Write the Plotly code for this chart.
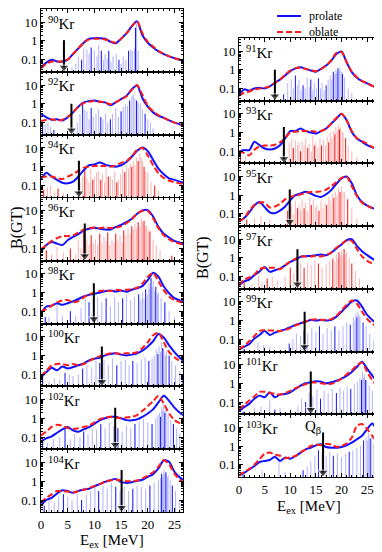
import plotly.graph_objects as go

# excitation energy grid (MeV) for the strength curves
E = list(range(29))

left_panels = ["90", "92", "94", "96", "98", "100", "102", "104"]
right_panels = ["91", "93", "95", "97", "99", "101", "103"]
red_bar_panels = ["94", "96", "93", "95", "97"]

# folded B(GT) curves, prolate shape
prolate = {
    "90": [0.04, 0.07, 0.1, 0.08, 0.08, 0.1, 0.2, 0.4, 0.8, 1.3, 1.4, 1.4, 1.3, 0.9, 0.75, 1.3, 2.5, 6, 11, 2, 0.8, 0.45, 0.28, 0.2, 0.15, 0.12, 0.1, 0.08, 0.07],
    "92": [0.28, 0.19, 0.14, 0.15, 0.13, 0.19, 0.35, 0.7, 1.2, 1.4, 1.5, 1.3, 1.2, 0.85, 1.2, 1.8, 2.6, 6, 9.5, 2.0, 0.7, 0.35, 0.23, 0.18, 0.13, 0.1, 0.08, 0.06, 0.05],
    "94": [0.21, 0.48, 0.3, 0.2, 0.14, 0.13, 0.16, 0.3, 0.66, 1.2, 1.3, 1.7, 1.3, 1.1, 1.0, 1.2, 1.8, 3.4, 7, 10.6, 6.8, 2.3, 0.8, 0.4, 0.24, 0.2, 0.16, 0.13, 0.12],
    "96": [0.067, 0.15, 0.22, 0.18, 0.15, 0.27, 0.41, 0.57, 0.92, 1.1, 1.27, 1.1, 1.0, 1.0, 1.4, 1.8, 2.5, 3.8, 7, 10.4, 11, 5, 1.4, 0.6, 0.38, 0.25, 0.2, 0.15, 0.13],
    "98": [0.08, 0.18, 0.2, 0.27, 0.22, 0.27, 0.34, 0.45, 0.62, 0.75, 0.85, 1.0, 1.17, 1.27, 1.13, 1.27, 1.1, 1.4, 1.7, 2.2, 4.6, 11.3, 7, 2.1, 0.92, 0.5, 0.38, 0.31, 0.27],
    "100": [0.07, 0.13, 0.22, 0.16, 0.26, 0.2, 0.24, 0.3, 0.37, 0.55, 0.67, 0.75, 1.0, 1.2, 1.3, 1.1, 1.0, 1.1, 1.3, 1.8, 3, 5.7, 14, 9, 3.4, 1.5, 0.75, 0.45, 0.35],
    "102": [0.06, 0.085, 0.11, 0.17, 0.26, 0.34, 0.23, 0.19, 0.26, 0.34, 0.52, 0.78, 1.0, 1.2, 1.2, 1.0, 0.8, 0.78, 0.88, 1.2, 1.8, 3, 7, 15.7, 8.5, 3.7, 2, 1.3, 1.0],
    "104": [0.05, 0.1, 0.13, 0.22, 0.33, 0.3, 0.24, 0.3, 0.36, 0.4, 0.54, 0.7, 0.92, 1.13, 1.33, 0.92, 0.81, 0.88, 1.04, 1.2, 1.7, 2.4, 4.8, 13, 10.8, 3.2, 1.6, 1.04, 0.8],
    "91": [0.046, 0.09, 0.077, 0.1, 0.11, 0.1, 0.13, 0.2, 0.3, 0.5, 0.85, 1.2, 1.38, 1.13, 0.92, 0.79, 1.13, 1.7, 3.1, 7, 9.5, 2.5, 0.76, 0.38, 0.25, 0.19, 0.14, 0.11, 0.09],
    "93": [0.094, 0.115, 0.115, 0.32, 0.21, 0.14, 0.125, 0.14, 0.21, 0.48, 1.18, 1.18, 1.63, 1.18, 1.0, 0.88, 1.18, 1.63, 3, 5.5, 10, 4.5, 1.08, 0.48, 0.32, 0.21, 0.16, 0.13, 0.11],
    "95": [0.04, 0.06, 0.12, 0.28, 0.43, 0.23, 0.12, 0.11, 0.15, 0.25, 0.53, 1.0, 1.23, 1.52, 1.23, 0.92, 0.81, 1.13, 1.87, 4, 8, 10, 4.3, 1.0, 0.43, 0.28, 0.21, 0.17, 0.15],
    "97": [0.034, 0.056, 0.07, 0.12, 0.19, 0.33, 0.18, 0.22, 0.27, 0.4, 0.61, 0.81, 1.13, 1.23, 1.28, 1.39, 1.5, 1.39, 1.9, 3.2, 5.2, 8.8, 10, 4.4, 2.3, 1.4, 0.92, 0.66, 0.55],
    "99": [0.029, 0.04, 0.056, 0.11, 0.17, 0.29, 0.17, 0.23, 0.28, 0.34, 0.44, 0.59, 0.72, 0.88, 1.09, 1.0, 1.09, 1.0, 1.09, 1.64, 3, 5.6, 10.4, 11.8, 5.6, 2, 1.09, 0.72, 0.55],
    "101": [0.033, 0.053, 0.08, 0.15, 0.22, 0.18, 0.33, 0.18, 0.25, 0.27, 0.33, 0.5, 0.75, 1.0, 1.13, 1.28, 1.23, 1.0, 1.13, 1.38, 1.8, 2.5, 4, 7.5, 14, 6, 2.6, 1.2, 0.8],
    "103": [0.027, 0.037, 0.056, 0.085, 0.14, 0.16, 0.18, 0.27, 0.16, 0.24, 0.21, 0.29, 0.44, 0.66, 0.81, 1.08, 1.23, 0.88, 0.81, 0.81, 0.88, 1.08, 1.5, 2.3, 3.5, 8, 16, 6, 2.5],
}

# folded B(GT) curves, oblate shape
oblate = {
    "90": [0.035, 0.06, 0.08, 0.08, 0.08, 0.1, 0.2, 0.4, 0.8, 1.2, 1.3, 1.3, 1.2, 0.95, 0.8, 1.3, 2.5, 6, 11, 2.6, 0.9, 0.5, 0.3, 0.2, 0.15, 0.12, 0.1, 0.08, 0.07],
    "92": [0.12, 0.14, 0.15, 0.13, 0.14, 0.2, 0.35, 0.7, 1.1, 1.3, 1.4, 1.3, 1.2, 0.95, 1.2, 1.7, 2.5, 5.5, 10, 3, 0.8, 0.4, 0.25, 0.18, 0.13, 0.1, 0.08, 0.065, 0.055],
    "94": [0.28, 0.3, 0.3, 0.25, 0.22, 0.3, 0.4, 0.6, 0.9, 1.0, 1.1, 1.1, 1.1, 1.0, 1.2, 1.6, 2.0, 3.5, 8, 10, 4, 1.2, 0.45, 0.25, 0.18, 0.15, 0.13, 0.12, 0.11],
    "96": [0.09, 0.15, 0.25, 0.35, 0.45, 0.45, 0.5, 0.7, 1.0, 1.2, 1.3, 1.2, 1.3, 1.2, 1.3, 1.5, 2.2, 3.5, 7, 10, 10, 4, 1.2, 0.5, 0.3, 0.22, 0.18, 0.14, 0.12],
    "98": [0.1, 0.13, 0.2, 0.3, 0.38, 0.4, 0.3, 0.35, 0.55, 0.8, 1.0, 1.2, 1.3, 1.2, 1.4, 1.3, 1.4, 1.5, 1.8, 3, 7, 11, 4, 1.3, 0.6, 0.4, 0.32, 0.28, 0.25],
    "100": [0.08, 0.15, 0.3, 0.35, 0.35, 0.3, 0.35, 0.3, 0.35, 0.5, 0.7, 0.9, 1.1, 1.3, 1.3, 1.2, 1.3, 1.3, 1.5, 2.5, 5, 12, 16, 5, 1.5, 0.8, 0.5, 0.38, 0.3],
    "102": [0.12, 0.2, 0.35, 0.45, 0.4, 0.3, 0.28, 0.3, 0.35, 0.4, 0.6, 0.9, 1.1, 1.2, 1.1, 1.0, 1.1, 1.2, 1.5, 2.5, 4.5, 8, 16, 6, 1.8, 0.8, 0.55, 0.42, 0.35],
    "104": [0.07, 0.13, 0.2, 0.3, 0.3, 0.28, 0.25, 0.3, 0.35, 0.45, 0.55, 0.7, 0.95, 1.1, 1.2, 1.1, 1.0, 1.0, 1.1, 1.4, 2, 3, 6, 13, 8, 2.5, 1.2, 0.7, 0.5],
    "91": [0.04, 0.06, 0.07, 0.09, 0.1, 0.11, 0.13, 0.2, 0.3, 0.55, 0.9, 1.2, 1.3, 1.1, 0.95, 0.85, 1.1, 1.7, 3.3, 8, 9, 2.6, 0.8, 0.4, 0.26, 0.19, 0.14, 0.11, 0.09],
    "93": [0.1, 0.08, 0.06, 0.12, 0.18, 0.2, 0.2, 0.22, 0.3, 0.5, 1.0, 1.1, 1.2, 1.2, 1.2, 1.1, 1.2, 1.6, 3, 6, 10, 4.5, 1.2, 0.5, 0.35, 0.25, 0.17, 0.14, 0.12],
    "95": [0.04, 0.06, 0.15, 0.3, 0.4, 0.4, 0.22, 0.25, 0.35, 0.6, 0.8, 1.0, 1.1, 1.3, 1.5, 1.5, 1.6, 2, 3, 5, 8.5, 10, 3, 0.9, 0.4, 0.28, 0.2, 0.16, 0.14],
    "97": [0.035, 0.07, 0.09, 0.13, 0.25, 0.3, 0.3, 0.3, 0.25, 0.4, 0.65, 0.9, 1.2, 1.2, 1.2, 1.3, 1.2, 1.4, 2, 3.5, 5.5, 9, 8, 3, 1.2, 0.7, 0.5, 0.4, 0.35],
    "99": [0.03, 0.045, 0.08, 0.15, 0.28, 0.32, 0.3, 0.3, 0.28, 0.32, 0.4, 0.55, 0.7, 0.9, 1.1, 1.2, 1.1, 1.1, 1.2, 1.8, 3.5, 7, 12, 8, 3, 1.2, 0.7, 0.45, 0.35],
    "101": [0.04, 0.07, 0.12, 0.2, 0.35, 0.35, 0.3, 0.28, 0.25, 0.3, 0.4, 0.55, 0.7, 0.9, 1.1, 1.1, 1.0, 0.9, 0.95, 1.2, 1.8, 3, 5, 9, 13, 4, 1.5, 0.7, 0.5],
    "103": [0.027, 0.04, 0.06, 0.1, 0.2, 0.38, 0.45, 0.35, 0.3, 0.22, 0.25, 0.3, 0.45, 0.65, 1.0, 1.2, 1.1, 1.3, 1.2, 0.9, 1.0, 1.4, 2.8, 12, 15, 8, 3.5, 1.5, 0.9],
}

# discrete GT transitions (energy, strength)
bar_E = {
    "90": [2.0, 5.8, 6.5, 7.0, 7.6, 8.0, 8.6, 9.0, 9.4, 10.0, 10.5, 10.8, 11.3, 11.7, 12.0, 12.4, 12.7, 13.1, 13.5, 14.1, 14.6, 15.0, 15.4, 15.9, 16.4, 16.8, 17.1, 17.5, 17.7, 17.9, 18.2],
    "92": [0.3, 0.8, 1.3, 1.8, 2.4, 6.2, 6.8, 7.3, 7.8, 8.2, 8.6, 9.0, 9.4, 9.8, 10.3, 10.8, 11.2, 11.6, 12.1, 12.5, 13.0, 13.4, 14.0, 14.5, 15.0, 15.4, 15.8, 16.2, 16.6, 17.0, 17.3, 17.6, 17.9, 18.2, 18.6, 19.0, 19.5, 20.0, 20.5, 21.0],
    "94": [0.5, 1.2, 1.8, 2.5, 3.2, 4.2, 7.3, 7.8, 8.2, 8.6, 9.0, 9.3, 9.7, 10.0, 10.4, 10.8, 11.2, 11.5, 11.9, 12.2, 12.6, 13.0, 13.4, 13.8, 14.2, 14.5, 14.9, 15.3, 15.7, 16.0, 16.4, 16.7, 17.0, 17.3, 17.6, 17.9, 18.2, 18.5, 18.8, 19.0, 19.3, 19.6, 20.0, 20.6, 21.3, 22.0],
    "96": [1.0, 2.0, 3.0, 4.2, 5.5, 6.5, 7.0, 7.5, 8.0, 8.3, 8.6, 9.0, 9.4, 9.8, 10.2, 10.6, 11.0, 11.4, 11.8, 12.2, 12.5, 12.9, 13.3, 13.7, 14.0, 14.4, 14.8, 15.2, 15.5, 15.9, 16.3, 16.7, 17.0, 17.3, 17.6, 17.9, 18.2, 18.5, 18.8, 19.0, 19.3, 19.6, 19.8, 20.1, 20.4, 21.0, 21.6, 22.3, 24.5],
    "98": [0.8, 1.5, 3.0, 4.0, 5.5, 6.5, 7.5, 8.3, 9.0, 9.8, 10.6, 11.4, 12.2, 13.0, 13.8, 14.5, 15.3, 16.0, 16.8, 17.5, 18.3, 18.7, 19.0, 19.3, 19.6, 19.9, 20.2, 20.4, 20.6, 20.8, 21.0, 21.3, 21.5, 21.8, 22.0, 22.5, 23.2, 24.0, 25.0],
    "100": [0.3, 1.5, 2.5, 3.5, 4.5, 5.3, 6.0, 7.0, 7.8, 8.6, 9.5, 10.3, 11.0, 11.8, 12.6, 13.4, 14.2, 15.0, 15.8, 16.5, 17.2, 18.0, 18.8, 19.5, 20.2, 20.8, 21.2, 21.6, 21.9, 22.1, 22.4, 22.6, 22.8, 23.0, 23.3, 23.5, 24.0, 24.5, 25.2, 26.0, 26.6],
    "102": [0.3, 1.2, 2.3, 3.5, 4.5, 5.5, 6.3, 7.3, 8.0, 8.8, 9.6, 10.4, 11.2, 12.0, 12.8, 13.6, 14.4, 15.2, 16.0, 16.8, 17.6, 18.4, 19.2, 20.0, 20.8, 21.5, 21.9, 22.2, 22.4, 22.6, 22.8, 23.0, 23.2, 23.4, 23.8, 24.3, 24.8, 25.4, 26.0],
    "104": [0.6, 1.5, 2.5, 3.3, 4.2, 5.0, 5.8, 6.8, 7.6, 8.5, 9.3, 10.1, 10.8, 11.6, 12.4, 13.2, 14.0, 14.8, 15.6, 16.4, 17.2, 18.0, 18.8, 19.6, 20.4, 21.2, 22.0, 22.4, 22.6, 22.8, 23.0, 23.2, 23.4, 23.6, 23.8, 24.2, 24.6, 25.2, 26.0],
    "91": [8.7, 9.5, 10.2, 10.6, 11.0, 11.4, 11.7, 12.1, 12.5, 12.9, 13.3, 13.7, 14.0, 14.4, 14.7, 15.1, 15.5, 15.9, 16.2, 16.6, 17.0, 17.4, 17.8, 18.1, 18.4, 18.7, 18.9, 19.1, 19.3, 19.5, 19.7, 20.0, 20.2, 20.6, 21.3, 22.0],
    "93": [0.3, 1.3, 9.8, 10.3, 10.6, 11.0, 11.4, 11.7, 12.0, 12.3, 12.7, 13.0, 13.4, 13.7, 14.1, 14.4, 14.7, 15.0, 15.4, 15.8, 16.1, 16.5, 16.9, 17.2, 17.5, 17.8, 18.1, 18.4, 18.7, 18.9, 19.2, 19.4, 19.6, 19.8, 20.1, 20.3, 20.8, 21.3, 22.0, 23.0],
    "95": [1.5, 3.0, 4.3, 6.0, 9.5, 10.3, 10.7, 11.0, 11.4, 11.7, 12.0, 12.3, 12.7, 13.0, 13.4, 13.8, 14.1, 14.5, 14.9, 15.2, 15.6, 16.0, 16.4, 16.8, 17.1, 17.5, 17.8, 18.2, 18.5, 18.8, 19.1, 19.4, 19.7, 20.0, 20.3, 20.6, 21.2, 22.0, 23.0],
    "97": [1.0, 2.5, 3.8, 4.5, 5.5, 6.5, 7.5, 9.0, 10.0, 10.7, 11.3, 12.0, 12.7, 13.4, 14.1, 14.8, 15.5, 16.2, 17.0, 17.7, 18.3, 18.7, 19.0, 19.3, 19.5, 19.8, 20.0, 20.3, 20.5, 20.8, 21.0, 21.5, 22.0, 22.7, 23.5],
    "99": [1.0, 3.7, 4.8, 6.0, 9.8, 10.5, 11.2, 12.0, 12.7, 13.4, 14.2, 15.0, 15.7, 16.4, 17.2, 18.0, 18.7, 19.5, 20.3, 21.0, 21.7, 22.3, 22.6, 22.8, 23.0, 23.2, 23.4, 23.6, 24.2, 24.8, 25.5, 26.3],
    "101": [0.8, 3.0, 4.3, 6.0, 7.0, 8.0, 11.5, 12.2, 13.0, 13.7, 14.4, 15.2, 15.9, 16.6, 17.4, 18.2, 19.0, 19.7, 20.4, 21.1, 21.8, 22.5, 23.1, 23.6, 23.9, 24.1, 24.3, 24.5, 24.7, 24.9, 25.4, 26.0, 26.6],
    "103": [0.8, 4.5, 7.8, 9.0, 12.5, 13.3, 14.0, 14.8, 15.5, 16.2, 17.0, 17.7, 18.4, 19.2, 20.0, 20.8, 21.5, 22.2, 23.0, 23.7, 24.3, 24.8, 25.1, 25.3, 25.6, 25.8, 26.3, 26.8],
}
bar_B = {
    "90": [0.03, 0.04, 0.06, 0.15, 0.1, 0.4, 0.35, 0.2, 0.45, 0.3, 0.15, 0.6, 0.3, 0.1, 0.2, 0.12, 0.3, 0.08, 0.15, 0.2, 0.1, 0.06, 0.15, 0.1, 0.3, 0.35, 0.3, 0.4, 5, 8, 0.3],
    "92": [0.1, 0.08, 0.1, 0.06, 0.04, 0.04, 0.1, 0.3, 1.2, 0.5, 0.4, 0.15, 0.6, 0.2, 0.3, 0.5, 0.2, 0.15, 0.3, 0.1, 0.15, 0.3, 0.6, 0.2, 0.4, 0.7, 1.0, 0.8, 1.5, 2.5, 3, 2, 1.5, 1.2, 1, 0.5, 0.3, 0.15, 0.1, 0.05],
    "94": [0.06, 0.08, 0.1, 0.05, 0.07, 0.04, 0.15, 0.3, 0.7, 0.25, 0.15, 0.8, 0.2, 0.3, 0.5, 0.6, 0.2, 0.4, 0.15, 0.8, 0.3, 0.3, 0.2, 0.5, 0.15, 0.2, 0.4, 0.8, 0.5, 1.2, 0.8, 1.5, 1.0, 2, 1.2, 3, 2, 5, 3, 2, 1, 0.6, 0.5, 0.15, 0.1, 0.05],
    "96": [0.08, 0.05, 0.12, 0.06, 0.1, 0.05, 0.3, 0.1, 0.8, 0.2, 0.3, 0.15, 0.5, 0.2, 0.3, 0.15, 0.6, 0.2, 0.4, 0.25, 0.7, 0.15, 0.3, 0.2, 0.6, 0.3, 0.5, 0.2, 0.9, 0.5, 1.2, 0.6, 1.5, 1.0, 2, 1.2, 2.5, 1.5, 4, 2.5, 3, 1.5, 1.5, 1, 0.8, 0.3, 0.15, 0.08, 0.04],
    "98": [0.05, 0.05, 0.3, 0.06, 0.1, 0.06, 0.15, 0.5, 0.3, 0.4, 0.6, 0.3, 0.5, 0.2, 0.6, 0.3, 0.5, 0.8, 0.4, 0.6, 0.8, 0.4, 1, 0.5, 1.5, 0.8, 3, 1.5, 6, 2, 4, 1.2, 2, 0.8, 1, 0.5, 0.3, 0.1, 0.05],
    "100": [0.08, 0.04, 0.06, 0.05, 0.12, 0.1, 0.08, 0.1, 0.2, 0.3, 0.2, 0.5, 0.4, 0.6, 0.3, 0.7, 0.3, 0.5, 0.6, 0.3, 0.5, 0.4, 0.6, 0.8, 0.5, 0.7, 1, 2, 1.2, 3, 1.5, 5, 2.5, 2, 1, 1.5, 1, 0.5, 0.3, 0.15, 0.1],
    "102": [0.06, 0.05, 0.08, 0.1, 0.3, 0.08, 0.15, 0.1, 0.2, 0.15, 0.3, 0.25, 0.5, 0.3, 0.6, 0.4, 0.3, 0.2, 0.4, 0.3, 0.5, 0.7, 0.9, 0.6, 0.5, 1, 1.5, 2, 1.2, 4, 2.5, 6, 2, 3, 1.5, 0.8, 0.5, 0.3, 0.15],
    "104": [0.05, 0.1, 0.07, 0.15, 0.2, 0.15, 0.1, 0.2, 0.1, 0.2, 0.3, 0.5, 0.3, 0.6, 0.4, 0.8, 0.5, 0.3, 0.5, 0.3, 0.4, 0.6, 0.5, 0.4, 0.6, 0.8, 1.2, 1.5, 2.5, 1.8, 4, 2.5, 3, 1.5, 2, 1.2, 0.6, 0.3, 0.1],
    "91": [0.05, 0.2, 0.3, 0.1, 0.5, 0.15, 0.3, 0.08, 0.15, 0.1, 0.4, 0.12, 0.3, 0.08, 0.2, 0.1, 0.35, 0.1, 0.2, 0.08, 0.15, 0.3, 0.5, 0.3, 0.8, 0.6, 1.0, 0.7, 1.2, 0.9, 1.3, 0.8, 0.6, 0.4, 0.1, 0.06],
    "93": [0.08, 0.05, 0.3, 0.5, 0.15, 0.4, 0.2, 0.3, 0.1, 0.35, 0.2, 0.5, 0.15, 0.25, 0.1, 0.7, 0.2, 0.3, 0.15, 0.5, 0.2, 0.4, 0.2, 0.6, 0.3, 1.0, 0.5, 1.2, 0.8, 2, 1.2, 2.5, 1.5, 2, 1.2, 1, 0.5, 0.2, 0.1, 0.05],
    "95": [0.05, 0.06, 0.07, 0.05, 0.15, 0.3, 0.1, 0.5, 0.2, 0.3, 0.15, 0.6, 0.2, 0.4, 0.15, 0.8, 0.3, 0.6, 0.2, 0.3, 0.15, 0.5, 0.2, 0.4, 0.3, 0.8, 0.5, 1.2, 0.7, 1.5, 1, 2.5, 1.5, 3, 1.5, 1.5, 0.6, 0.2, 0.06],
    "97": [0.05, 0.04, 0.12, 0.05, 0.08, 0.1, 0.06, 0.1, 0.3, 0.15, 0.4, 0.5, 0.3, 0.6, 0.4, 0.8, 0.5, 0.3, 0.5, 0.7, 0.9, 0.6, 1.5, 1, 2, 1.2, 2.5, 1.5, 3, 1.5, 2, 1, 0.5, 0.2, 0.08],
    "99": [0.03, 0.07, 0.05, 0.04, 0.06, 0.1, 0.2, 0.15, 0.3, 0.2, 0.4, 0.25, 0.5, 0.2, 0.4, 0.3, 0.5, 0.3, 0.5, 0.8, 0.6, 1.5, 1, 2.5, 1.5, 3, 2, 1.5, 0.8, 0.5, 0.2, 0.1],
    "101": [0.03, 0.05, 0.06, 0.12, 0.04, 0.05, 0.06, 0.15, 0.1, 0.3, 0.2, 0.5, 0.15, 0.4, 0.3, 0.5, 0.3, 0.6, 0.4, 0.7, 0.5, 0.9, 1.2, 2, 1.5, 4, 2, 3, 1.5, 1.5, 0.8, 0.4, 0.2],
    "103": [0.03, 0.05, 0.15, 0.04, 0.05, 0.08, 0.15, 0.3, 0.6, 0.4, 0.3, 0.5, 0.3, 0.4, 0.25, 0.4, 0.5, 0.6, 0.8, 1, 2, 3, 2, 5, 2.5, 3, 1.5, 0.8],
}

# Q_beta arrows: energy and height of the arrow tail
q_beta = {"90": 4.3, "92": 5.7, "94": 7.1, "96": 8.2, "98": 9.9, "100": 11.4, "102": 13.9, "104": 15.1,
          "91": 7.0, "93": 8.75, "95": 9.9, "97": 11.4, "99": 12.8, "101": 14.0, "103": 16.4}
arrow_top = {"90": 1.1, "92": 1.0, "94": 2.1, "96": 2.1, "98": 3.1, "100": 3.0, "102": 3.7, "104": 3.9,
             "91": 1.0, "93": 2.0, "95": 2.0, "97": 2.9, "99": 3.0, "101": 4.3, "103": 5.2}

# the page body adds an 8px margin, so the figure is sized to the visible area
OFF = 8
W, H = 382 - OFF, 552 - OFF
FONT = "Liberation Serif"
BLUE = "#1010ff"
RED = "#ff1a1a"
Y_RANGE = [-1.65, 1.7]
Y_MINOR = [0.03, 0.04, 0.05, 0.06, 0.07, 0.08, 0.09, 0.2, 0.3, 0.4, 0.5, 0.6, 0.7, 0.8, 0.9,
           2, 3, 4, 5, 6, 7, 8, 9, 20, 30, 40]


def px(x):
    return (x - OFF) / W


def py(y):
    return 1 - (y - OFF) / H


fig = go.Figure()
annotations = []
shapes = []
layout_axes = {}


def add_panel(k, name, col, row):
    if col == 0:
        x0, x1, top0, ph, xmax = 41, 183, 9, 62.9, 26.6
    else:
        x0, x1, top0, ph, xmax = 239, 381, 38, 62.7, 27.7
    top = top0 + row * ph
    bottom = top + ph
    suffix = "" if k == 1 else str(k)
    xa, ya = "x" + suffix, "y" + suffix
    is_bottom = (col == 0 and row == 7) or (col == 1 and row == 6)

    if name in red_bar_panels:
        dark, light = "rgba(240,0,0,0.9)", "rgba(255,120,120,0.55)"
    else:
        dark, light = "rgba(0,0,240,0.9)", "rgba(120,120,255,0.55)"
    colors = [dark if i % 4 == 0 else light for i in range(len(bar_E[name]))]
    fig.add_trace(go.Bar(x=bar_E[name], y=bar_B[name], width=0.2, marker_color=colors,
                         marker_line_width=0, xaxis=xa, yaxis=ya, showlegend=False))
    fig.add_trace(go.Scatter(x=E, y=prolate[name], mode="lines",
                             line=dict(color=BLUE, width=2, shape="spline", smoothing=0.7),
                             xaxis=xa, yaxis=ya, showlegend=False))
    fig.add_trace(go.Scatter(x=E, y=oblate[name], mode="lines",
                             line=dict(color=RED, width=2, dash="6px,3px", shape="spline", smoothing=0.7),
                             xaxis=xa, yaxis=ya, showlegend=False))
    # Q_beta arrow: shaft plus a triangular head resting on the bottom axis
    tip = 10 ** (Y_RANGE[0] + 0.24)
    fig.add_trace(go.Scatter(x=[q_beta[name], q_beta[name]], y=[arrow_top[name], tip],
                             mode="lines+markers", line=dict(color="black", width=2),
                             marker=dict(symbol="triangle-down", size=[0, 9], color="black"),
                             cliponaxis=False, xaxis=xa, yaxis=ya, showlegend=False))

    layout_axes["xaxis" + suffix] = dict(
        domain=[px(x0), px(x1)], anchor=ya, range=[0, xmax],
        showline=True, linecolor="black", linewidth=1, mirror="allticks",
        ticks="inside", ticklen=4, tickcolor="black", tickvals=[0, 5, 10, 15, 20, 25],
        minor=dict(ticks="inside", ticklen=2, dtick=1, tickcolor="black"),
        showticklabels=is_bottom, showgrid=False, zeroline=False, automargin=False,
        tickfont=dict(family=FONT, size=13, color="black"))
    layout_axes["yaxis" + suffix] = dict(
        domain=[py(bottom), py(top)], anchor=xa, type="log", range=Y_RANGE,
        showline=True, linecolor="black", linewidth=1, mirror="allticks",
        ticks="inside", ticklen=4, tickcolor="black",
        tickvals=[0.1, 1, 10], ticktext=["0.1", "1", "10"],
        minor=dict(ticks="inside", ticklen=2, tickmode="array", tickvals=Y_MINOR, tickcolor="black"),
        showgrid=False, zeroline=False, automargin=False,
        tickfont=dict(family=FONT, size=13, color="black"))

    annotations.append(dict(xref=f"{xa} domain", yref=f"{ya} domain", x=0.035, y=0.96,
                            xanchor="left", yanchor="top", showarrow=False,
                            text=f"<sup>{name}</sup>Kr", font=dict(family=FONT, size=15, color="black")))


k = 1
for row, name in enumerate(left_panels):
    add_panel(k, name, 0, row)
    k += 1
for row, name in enumerate(right_panels):
    add_panel(k, name, 1, row)
    k += 1

# Q_beta label in the last panel
annotations.append(dict(xref="x15", yref="y15", x=14.4, y=1.0, xanchor="center", showarrow=False,
                        text="Q<sub>β</sub>", font=dict(family=FONT, size=15, color="black")))

# axis titles
annotations += [
    dict(xref="paper", yref="paper", x=px(17), y=py(228), xanchor="center", yanchor="middle",
         textangle=-90, showarrow=False,
         text="B(GT)", font=dict(family=FONT, size=16, color="black")),
    dict(xref="paper", yref="paper", x=px(203), y=py(258), xanchor="center", yanchor="middle",
         textangle=-90, showarrow=False,
         text="B(GT)", font=dict(family=FONT, size=16, color="black")),
    dict(xref="paper", yref="paper", x=px(112), y=py(541), xanchor="center", yanchor="middle",
         showarrow=False, text="E<sub>ex</sub> [MeV]", font=dict(family=FONT, size=15, color="black")),
    dict(xref="paper", yref="paper", x=px(309), y=py(507), xanchor="center", yanchor="middle",
         showarrow=False, text="E<sub>ex</sub> [MeV]", font=dict(family=FONT, size=15, color="black")),
]

# legend drawn by hand in the top right corner
legend_items = [("prolate", BLUE, "solid", 16), ("oblate", RED, "6px,3px", 32)]
for label, color, dash, yl in legend_items:
    shapes.append(dict(type="line", xref="paper", yref="paper", x0=px(277), x1=px(301),
                       y0=py(yl), y1=py(yl), line=dict(color=color, width=2, dash=dash)))
    annotations.append(dict(xref="paper", yref="paper", x=px(307), y=py(yl), xanchor="left",
                            yanchor="middle", showarrow=False, text=label,
                            font=dict(family=FONT, size=12, color="black")))

fig.update_layout(
    width=W, height=H,
    margin=dict(l=0, r=0, t=0, b=0),
    paper_bgcolor="white", plot_bgcolor="white",
    barmode="overlay", showlegend=False,
    annotations=annotations, shapes=shapes,
    **layout_axes,
)

fig.write_html("out.html")
